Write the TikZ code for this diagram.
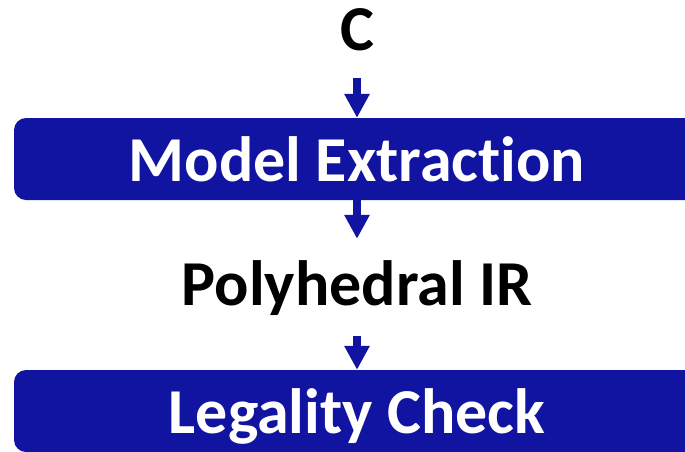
\documentclass[tikz,border=0pt]{standalone}
\usepackage{fontspec}
\setmainfont{Carlito}[Ligatures={NoCommon,NoRare}]
\usetikzlibrary{arrows.meta}
\definecolor{boxblue}{RGB}{17,20,160}
\tikzset{
	stage/.style={fill=boxblue, rounded corners=12pt, minimum width=686pt, minimum height=82pt, inner sep=0pt, text height=44pt, text depth=0pt, text=white, font=\fontsize{64}{72}\selectfont\bfseries},
	label/.style={inner sep=0pt, text height=44pt, text depth=0pt, font=\fontsize{64}{72}\selectfont\bfseries},
	flow/.style={draw=boxblue, line width=8pt, -{Triangle[width=24pt,length=24pt]}}
}
\begin{document}
\begin{tikzpicture}[x=1pt, y=-1pt]
	\useasboundingbox (0,0) rectangle (685,451);
	% Ebenen
	\node [label] (src) at (357,28) {C};
	\node [stage] (extract) at (357,159) {Model Extraction};
	\node [label] (ir) at (357,283) {Polyhedral IR};
	\node [stage] (legal) at (357,411) {Legality Check};
	% Pfeile
	\draw [flow] ([yshift=-28pt]src.south) -- (extract.north);
	\draw [flow] (extract.south) -- ([yshift=22pt]ir.north);
	\draw [flow] ([yshift=-31pt]ir.south) -- (legal.north);
\end{tikzpicture}
\end{document}
